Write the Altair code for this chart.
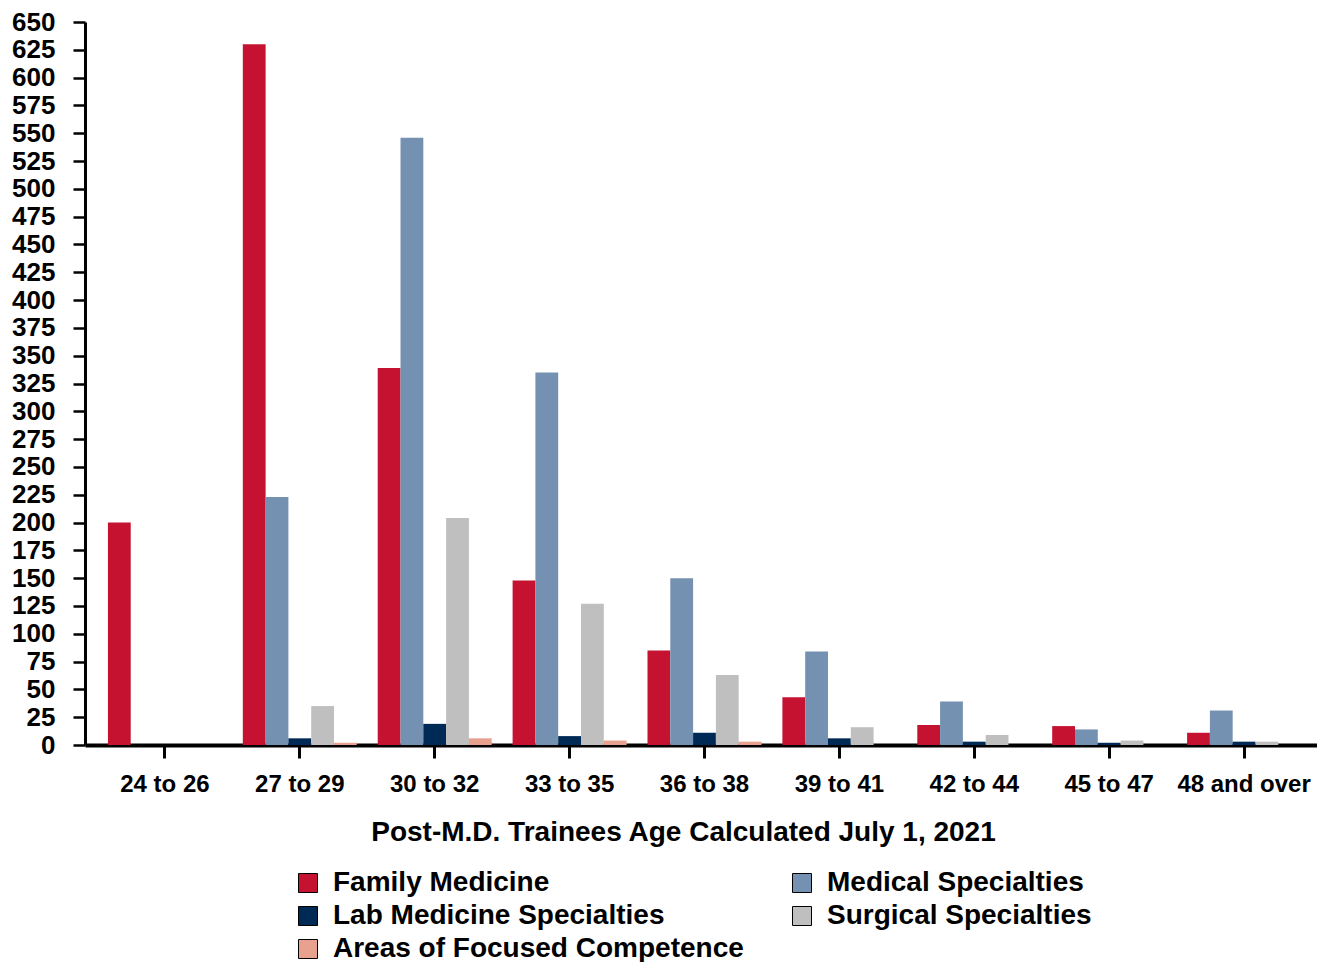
import altair as alt
import pandas as pd

ages = ["24 to 26", "27 to 29", "30 to 32", "33 to 35", "36 to 38",
        "39 to 41", "42 to 44", "45 to 47", "48 and over"]
series = ["Family Medicine", "Medical Specialties", "Lab Medicine Specialties",
          "Surgical Specialties", "Areas of Focused Competence"]
colors = ["#C41230", "#7591B1", "#002A56", "#BFBFBF", "#E8A08F"]

family_medicine = [200, 630, 339, 148, 85, 43, 18, 17, 11]
medical_specialties = [0, 223, 546, 335, 150, 84, 39, 14, 31]
lab_medicine = [0, 6, 19, 8, 11, 6, 3, 2, 3]
surgical_specialties = [0, 35, 204, 127, 63, 16, 9, 4, 3]
focused_competence = [0, 2, 6, 4, 3, 0, 0, 0, 0]

values = [family_medicine, medical_specialties, lab_medicine,
          surgical_specialties, focused_competence]
rows = []
for s, vals in zip(series, values):
    for a, v in zip(ages, vals):
        rows.append({"age": a, "series": s, "value": v})
df = pd.DataFrame(rows)

FONT = "Liberation Sans"

chart = alt.Chart(df).mark_bar().encode(
    x=alt.X("age:N", sort=ages,
            scale=alt.Scale(paddingInner=0.155, paddingOuter=0.144, align=0.59),
            axis=alt.Axis(title="Post-M.D. Trainees Age Calculated July 1, 2021",
                          labelAngle=0, labelFontSize=24, labelFontWeight="bold",
                          labelFont=FONT, labelColor="black", labelPadding=14,
                          titleFontSize=28, titleFontWeight="bold", titleFont=FONT,
                          titleColor="black", titlePadding=22,
                          titleX=598, titleAlign="center",
                          domainColor="black", domainWidth=4,
                          tickColor="black", tickWidth=3, tickSize=13)),
    xOffset=alt.XOffset("series:N", sort=series),
    y=alt.Y("value:Q",
            scale=alt.Scale(domain=[0, 650], nice=False),
            axis=alt.Axis(title=None, values=list(range(0, 651, 25)),
                          labelFontSize=26, labelFontWeight="bold", labelFont=FONT,
                          labelColor="black", labelPadding=18, grid=False,
                          domainColor="black", domainWidth=3,
                          tickColor="black", tickWidth=2.5, tickSize=12)),
    color=alt.Color("series:N", sort=series,
                    scale=alt.Scale(domain=series, range=colors),
                    legend=alt.Legend(title=None, orient="none", legendX=209, legendY=847,
                                      direction="horizontal",
                                      columns=2, columnPadding=44, rowPadding=5,
                                      symbolType="square", symbolSize=361,
                                      symbolStrokeColor="black", symbolStrokeWidth=1,
                                      labelFontSize=28, labelFontWeight="bold",
                                      labelFont=FONT, labelColor="black",
                                      labelOffset=11, labelLimit=600)),
).properties(
    width=1232, height=723,
    autosize=alt.AutoSizeParams(type="none"),
    padding={"left": 77, "top": 14, "right": 0, "bottom": 217},
).configure_view(stroke=None)

chart.save("out.html", embed_options={"renderer": "svg", "actions": False})
